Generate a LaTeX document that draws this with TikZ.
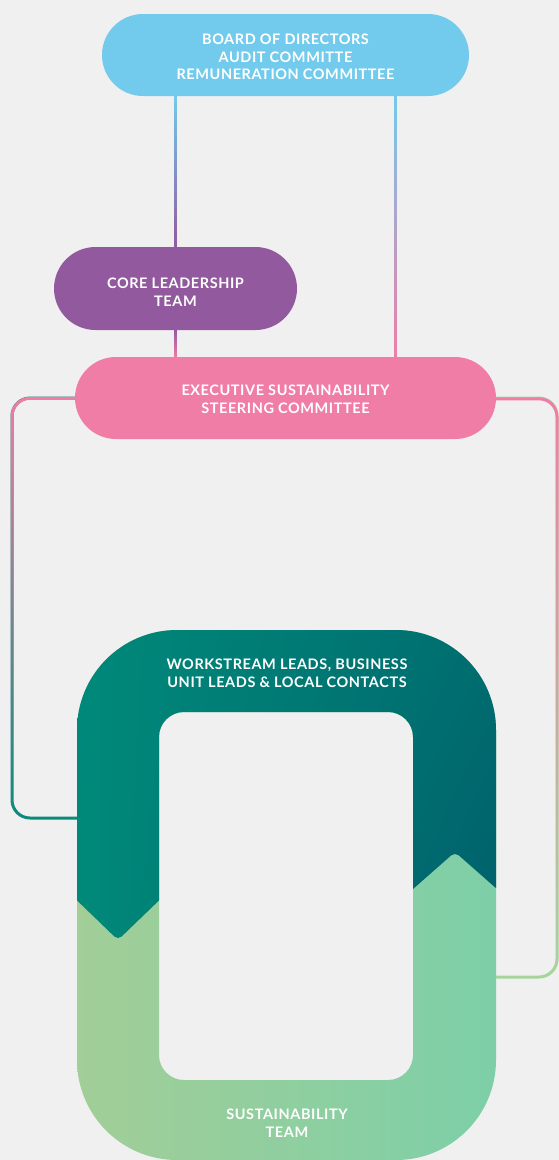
\documentclass[tikz,border=0pt]{standalone}
\usepackage{fontspec}
\setmainfont{Lato}[LetterSpace=4]
\usetikzlibrary{shapes.misc,fadings,shadings}
\definecolor{bg}{HTML}{F0F0F0}
\definecolor{cblue}{HTML}{72CBEC}
\definecolor{cpurple}{HTML}{93599F}
\definecolor{cpink}{HTML}{F07DA6}
\definecolor{cteal}{HTML}{0A8C7C}
\definecolor{cgreen}{HTML}{A5D69C}
\definecolor{tUL}{HTML}{00897A}
\definecolor{tUR}{HTML}{006D6F}
\definecolor{tLL}{HTML}{008A79}
\definecolor{tLR}{HTML}{00566A}
\definecolor{gL}{HTML}{A2CE97}
\definecolor{gR}{HTML}{7DCFA8}
\tikzfading[name=fadesouth, top color=transparent!0, bottom color=transparent!100]
\begin{document}
\begin{tikzpicture}[x=1pt,y=-1pt,
  pill/.style={rounded rectangle, minimum height=82, inner sep=0},
  lbl/.style={text=white, font=\bfseries\fontsize{14.5}{17.5}\selectfont, align=center, inner sep=0},
  conn/.style={line width=3}]
\useasboundingbox (0,0) rectangle (559,1160);
\fill[bg] (0,0) rectangle (559,1160);
% U shape, green base
\shade[even odd rule, left color=gL, right color=gR]
  [rounded corners=100] (77,630) rectangle (496,1160)
  [rounded corners=25] (159,712) rectangle (413,1080);
% U shape, teal top
\begin{scope}
\clip[rounded corners=5] (60,600) -- (60,884) -- (118,940) -- (176,884)
  -- (396,904) -- (455,852) -- (514,904) -- (514,600) -- cycle;
\shade[even odd rule, upper left=tUL, upper right=tUR, lower left=tLL, lower right=tLR]
  [rounded corners=100] (77,630) rectangle (496,1160)
  [rounded corners=25] (159,712) rectangle (413,1080);
\end{scope}
\node[lbl] (work) at (287,673) {WORKSTREAM LEADS, BUSINESS\\UNIT LEADS \& LOCAL CONTACTS};
\node[lbl] (sust) at (287,1123) {SUSTAINABILITY\\TEAM};
\coordinate (uleft) at (77,818);
\coordinate (uright) at (496,977);
% boxes
\node[pill, fill=cblue, minimum width=367] (board) at (285.5,55) {};
\node[lbl] (boardtxt) at ([shift={(0,2)}]board.center)
  {BOARD OF DIRECTORS\\AUDIT COMMITTE\\REMUNERATION COMMITTEE};
\node[pill, fill=cpurple, minimum width=243, minimum height=83] (core) at (175.5,288.5) {};
\node[lbl] (coretxt) at ([shift={(0,3.5)}]core.center) {CORE LEADERSHIP\\TEAM};
\node[pill, fill=cpink, minimum width=421] (exec) at (285.5,398) {};
\node[lbl] (exectxt) at ([shift={(0,1.5)}]exec.center) {EXECUTIVE SUSTAINABILITY\\STEERING COMMITTEE};
\coordinate (rx) at (395,0);
% connectors
\draw[conn, cpurple] (core.north |- board.south) -- (core.north);
\draw[conn, cblue, path fading=fadesouth] (core.north |- board.south) -- (core.north);
\draw[conn, cpink] (board.south -| rx) -- (exec.north -| rx);
\draw[conn, cblue, path fading=fadesouth] (board.south -| rx) -- (exec.north -| rx);
\draw[conn, cpink] (core.south) -- (exec.north -| core.south);
\draw[conn, cpurple, path fading=fadesouth] (core.south) -- (exec.north -| core.south);
\draw[conn, cteal, rounded corners=18] (exec.west) -- (12,398) -- (12,818) -- (uleft);
\draw[conn, cpink, rounded corners=18, path fading=fadesouth] (exec.west) -- (12,398) -- (12,818) -- (uleft);
\draw[conn, cgreen, rounded corners=18] (exec.east) -- (557,398) -- (557,977) -- (uright);
\draw[conn, cpink, rounded corners=18, path fading=fadesouth] (exec.east) -- (557,398) -- (557,977) -- (uright);
\end{tikzpicture}
\end{document}
